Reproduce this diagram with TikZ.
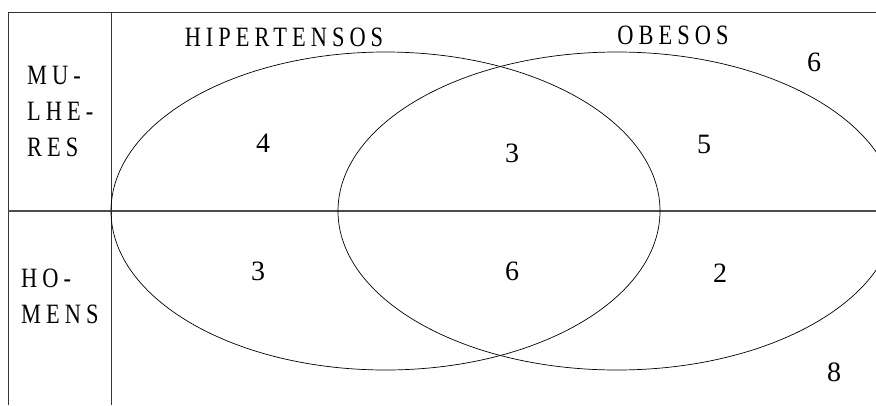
\documentclass[tikz,border=0pt]{standalone}
\usepackage{fontspec}
\setmainfont{Liberation Serif}
\newfontfamily\spacedfont{Liberation Serif}[FakeStretch=0.8, LetterSpace=18]
\usepackage{tikz}

\begin{document}
\begin{tikzpicture}[
    x=1pt, y=-1pt,
    frame/.style={draw=black!80, line width=0.9pt},
    divider/.style={draw=black!70, line width=1.8pt},
    setline/.style={draw=black, line width=0.7pt},
    setname/.style={font=\spacedfont\fontsize{28}{36}\selectfont, inner sep=0pt},
    rowname/.style={font=\spacedfont\fontsize{28}{36}\selectfont, inner sep=0pt, align=left, anchor=west},
    count/.style={font=\fontsize{28}{30}\selectfont, inner sep=0pt}
]
    \useasboundingbox (0,0) rectangle (876,405);
    \clip (0,0) rectangle (876,405);

    % Table frame
    \draw[frame] (8,405) -- (8,12) -- (876,12);
    \draw[frame] (111,12) -- (111,405);
    \draw[divider] (8,211) -- (876,211);

    % Row labels
    \node[rowname] (women) at (27,111) {MU-\\LHE-\\RES};
    \node[rowname] (men) at (21,296) {HO-\\MENS};

    % The two sets
    \draw[setline] (385.5,211) ellipse [x radius=274.5, y radius=159];
    \draw[setline] (617,211) ellipse [x radius=279, y radius=159];
    \node[setname] (hyper) at (284,37) {HIPERTENSOS};
    \node[setname] (obese) at (673,35) {OBESOS};

    % Counts, women
    \node[count] (w_hyper) at (263,143) {4};
    \node[count] (w_both) at (512,153) {3};
    \node[count] (w_obese) at (704,144) {5};
    \node[count] (w_none) at (814,62) {6};

    % Counts, men
    \node[count] (m_hyper) at (258,271) {3};
    \node[count] (m_both) at (512,271) {6};
    \node[count] (m_obese) at (720,273) {2};
    \node[count] (m_none) at (834,372) {8};

\end{tikzpicture}
\end{document}
